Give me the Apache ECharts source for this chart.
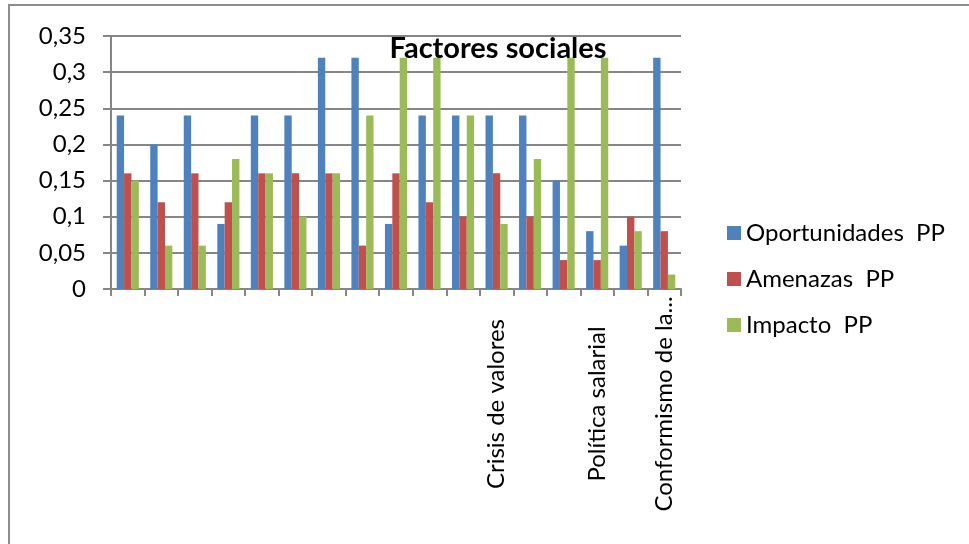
<!DOCTYPE html>
<html>
<head>
<meta charset="utf-8">
<script src="https://cdn.jsdelivr.net/npm/echarts@6/dist/echarts.min.js"></script>
<style>
  html, body { margin: 0; padding: 0; background: #fff; }
  #chart { width: 969px; height: 544px; }
</style>
</head>
<body>
<div id="chart"></div>
<script>
// only three category names are readable in the picture
const categories = ["", "", "", "", "", "", "", "", "", "", "",
  "Crisis de valores", "", "", "Política salarial", "", "Conformismo de la..."];
const oportunidades = [0.24, 0.20, 0.24, 0.09, 0.24, 0.24, 0.32, 0.32, 0.09, 0.24, 0.24, 0.24, 0.24, 0.15, 0.08, 0.06, 0.32];
const amenazas = [0.16, 0.12, 0.16, 0.12, 0.16, 0.16, 0.16, 0.06, 0.16, 0.12, 0.10, 0.16, 0.10, 0.04, 0.04, 0.10, 0.08];
const impacto = [0.15, 0.06, 0.06, 0.18, 0.16, 0.10, 0.16, 0.24, 0.32, 0.32, 0.24, 0.09, 0.18, 0.32, 0.32, 0.08, 0.02];
const seriesNames = ["Oportunidades  PP", "Amenazas  PP", "Impacto  PP"];
const colors = ["#4F81BD", "#C0504D", "#9BBB59"];

const font = "Lato, 'Open Sans', sans-serif";
const chart = echarts.init(document.getElementById("chart"));

const option = {
  animation: false,
  textStyle: { fontFamily: font },
  title: {
    text: "Factores sociales",
    left: 493,
    textAlign: "center",
    top: 29,
    textStyle: { fontSize: 29, fontWeight: "bold", color: "#000", fontFamily: font },
  },
  legend: {
    orient: "vertical",
    left: 722,
    top: 216,
    itemWidth: 14,
    itemHeight: 14,
    itemGap: 22,
    icon: "rect",
    textStyle: { fontSize: 24, color: "#000", fontFamily: font },
  },
  grid: { left: 111, top: 36, right: 288, bottom: 255 },
  xAxis: {
    type: "category",
    data: categories,
    axisLine: { lineStyle: { color: "#868686", width: 2 } },
    axisTick: { show: true, length: 7, interval: 0, lineStyle: { color: "#868686", width: 2 } },
    axisLabel: {
      interval: 0,
      rotate: 90,
      align: "center",
      verticalAlign: "middle",
      margin: 115,
      fontSize: 24,
      color: "#000",
      fontFamily: font,
    },
  },
  yAxis: {
    type: "value",
    min: 0,
    max: 0.35,
    interval: 0.05,
    axisLine: { show: true, lineStyle: { color: "#868686", width: 2 } },
    axisTick: { show: true, length: 8, lineStyle: { color: "#868686", width: 2 } },
    splitLine: { lineStyle: { color: "#868686", width: 2 } },
    axisLabel: {
      margin: 25,
      fontSize: 24,
      color: "#000",
      fontFamily: font,
      formatter: (v) => String(+v.toFixed(2)).replace(".", ","),
    },
  },
  series: [oportunidades, amenazas, impacto].map((d, i) => ({
    name: seriesNames[i],
    type: "bar",
    data: d,
    barGap: "0%",
    barCategoryGap: "34%",
    itemStyle: { color: colors[i] },
  })),
  graphic: [{
    type: "rect",
    shape: { x: 9, y: 5, width: 1000, height: 600 },
    style: { fill: "none", stroke: "#8c8c8c", lineWidth: 2 },
    silent: true,
  }],
};

chart.setOption(option);
window.addEventListener("resize", chart.resize);
</script>
</body>
</html>
